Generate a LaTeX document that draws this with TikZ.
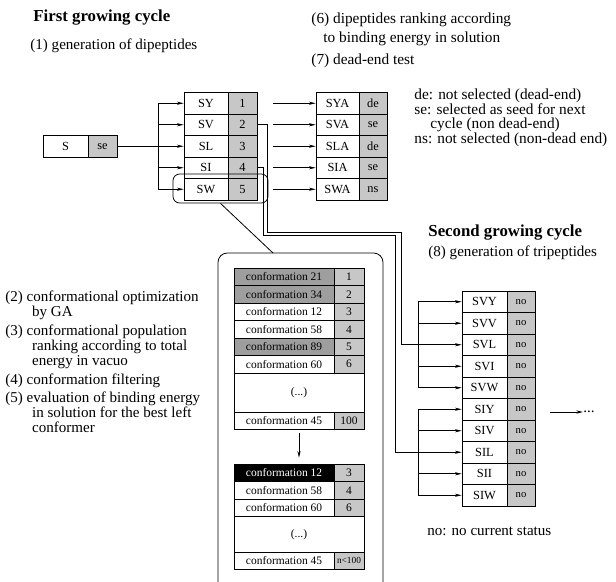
\documentclass[tikz,border=0pt]{standalone}
\usepackage{fontspec}
\setmainfont{Liberation Serif}
\usetikzlibrary{arrows.meta, positioning}
\tikzset{
  every picture/.style={line width=0.6pt},
  cell/.style={draw, inner sep=0pt, minimum height=16.1pt, font=\fontsize{9.3}{10}\selectfont},
  numcell/.style={cell, fill=black!22},
  conf/.style={draw, inner sep=0pt, minimum height=13.1pt, minimum width=75pt, font=\fontsize{8.6}{10}\selectfont},
  confnum/.style={conf, fill=black!22, minimum width=22.5pt},
  hit/.style={fill=black!38},
  best/.style={fill=black, text=white},
  arrow/.style={-{Stealth[length=5pt, width=2.4pt]}},
  title/.style={font=\fontsize{12.6}{14}\selectfont\bfseries, anchor=west, inner sep=0pt},
  note/.style={font=\fontsize{11.3}{11.4}\selectfont, align=left, anchor=north west, inner sep=0pt},
  key/.style={font=\fontsize{11.5}{10.9}\selectfont, align=left, anchor=north west, inner sep=0pt},
}
\begin{document}
\begin{tikzpicture}[x=0.75pt, y=-0.75pt]
  \useasboundingbox (0,0) rectangle (616,581);
  % first cycle
  \node[title] (first) at (33,18) {First growing cycle};
  \node[note, anchor=west] (step1) at (30,46) {(1) generation of dipeptides};
  \node[note, font=\fontsize{11.5}{14.2}\selectfont] (step6) at (311,12.5) {(6) dipeptides ranking according\\\hspace*{9pt}to binding energy in solution};
  \node[note, font=\fontsize{11.5}{12}\selectfont, anchor=west] (step7) at (311,61) {(7) dead-end test};
  \node[key] (legend) at (414,88.5) {de: not selected (dead-end)\\se: selected as seed for next\\\hspace*{12pt}cycle (non dead-end)\\ns: not selected (non-dead end)};
  % seed
  \node[cell, minimum width=33.75pt] (s) at (65.5,146.25) {S};
  \node[numcell, minimum width=21.75pt] (sse) at (102.5,146.25) {se};
  % dipeptides
  \coordinate (bus1) at (158,0);
  \foreach \lab/\nr/\id [count=\i] in {SY/1/y, SV/2/v, SL/3/l, SI/4/i, SW/5/w} {
    \node[cell, minimum width=33pt] (n\id) at (206,81.75+21.5*\i) {\lab};
    \node[numcell, minimum width=21.75pt] (c\id) at (242.5,81.75+21.5*\i) {\nr};
  }
  \draw (bus1 |- ny) -- (bus1 |- nw);
  \draw[arrow] (sse) -- (nl);
  \foreach \id in {y,v,i,w} \draw[arrow] (bus1 |- n\id) -- (n\id);
  % ranking and dead-end test
  \coordinate (gap) at (273,0);
  \foreach \lab/\st/\id [count=\i] in {SYA/de/y, SVA/se/v, SLA/de/l, SIA/se/i, SWA/ns/w} {
    \node[cell, minimum width=32.25pt] (a\id) at (337.5,81.75+21.5*\i) {\lab};
    \node[numcell, minimum width=21pt] (r\id) at (373,81.75+21.5*\i) {\st};
    \draw[arrow] (gap |- a\id) -- (a\id);
  }
  % zoom on SW
  \node[draw, rounded corners=5pt, minimum width=71.25pt, minimum height=21.75pt] (swsel) at (220.5,188.5) {};
  \coordinate (boxtop) at (273,253);
  \draw[rounded corners=7pt] (218,590) -- (218,253) -- (383,253) -- (383,590);
  \draw (swsel.south) -- (boxtop);
  \node[note] (step2) at (5,290.5) {(2) conformational optimization\\\hspace*{20pt}by GA};
  \node[note] (step3) at (5,324.5) {(3) conformational population\\\hspace*{20pt}ranking according to total\\\hspace*{20pt}energy in vacuo};
  \node[note] (step4) at (5,373.5) {(4) conformation filtering};
  \node[note] (step5) at (5,391.5) {(5) evaluation of binding energy\\\hspace*{20pt}in solution for the best left\\\hspace*{20pt}conformer};
  % population of conformers
  \foreach \c/\nr/\look [count=\i] in {21/1/hit, 34/2/hit, 12/3/, 58/4/, 89/5/hit, 60/6/} {
    \node[conf, \look] (p\i) at (284,259.25+17.5*\i) {conformation \c};
    \node[confnum] (q\i) at (349,259.25+17.5*\i) {\nr};
  }
  \node[conf, minimum width=97.5pt, minimum height=29.25pt] (pdots) at (299,392.5) {(...)};
  \node[conf] (plast) at (284,420.75) {conformation 45};
  \node[confnum] (qlast) at (349,420.75) {100};
  % after filtering
  \foreach \c/\nr/\look [count=\i] in {12/3/best, 58/4/, 60/6/} {
    \node[conf, \look] (f\i) at (284,455.25+17.5*\i) {conformation \c};
    \node[confnum] (g\i) at (349,455.25+17.5*\i) {\nr};
  }
  \node[conf, minimum width=97.5pt, minimum height=26.6pt] (fdots) at (299,534.25) {(...)};
  \node[conf] (flast) at (284,560.75) {conformation 45};
  \node[confnum, font=\fontsize{7}{8}\selectfont] (glast) at (349,560.75) {n<100};
  \coordinate (down) at (299,0);
  \draw[arrow, shorten <=2.6pt, shorten >=4.5pt] (down |- plast.south) -- (down |- f1.north);
  % second cycle
  \node[title] (second) at (428,233) {Second growing cycle};
  \node[note, anchor=west] (step8) at (428,253) {(8) generation of tripeptides};
  \foreach \lab [count=\i] in {SVY,SVV,SVL,SVI,SVW,SIY,SIV,SIL,SII,SIW} {
    \node[cell, minimum width=33.75pt] (\lab) at (484.5,280.25+21.5*\i) {\lab};
    \node[numcell, minimum width=21pt, font=\fontsize{8}{9}\selectfont] (\lab-st) at (521,280.25+21.5*\i) {no};
  }
  \coordinate (bus2) at (418,0);
  \draw (bus2 |- SVY) -- (bus2 |- SVW);
  \draw (bus2 |- SIY) -- (bus2 |- SIW);
  \foreach \t in {SVY,SVV,SVI,SVW,SIY,SIV,SII,SIW} \draw[arrow] (bus2 |- \t) -- (\t);
  % selected seeds
  \draw[arrow] (cv.east) -- ++(10,0) |- (401,232) |- (SVL);
  \draw[arrow] (ci.east) -- ++(6,0) |- (395,235) |- (SIL);
  \node[note, anchor=west] (more) at (583,412) {...};
  \coordinate (moreout) at (550,412);
  \draw[arrow] (moreout) -- (more);
  \node[note, anchor=west] (nokey) at (427,531) {no: no current status};
\end{tikzpicture}
\end{document}
